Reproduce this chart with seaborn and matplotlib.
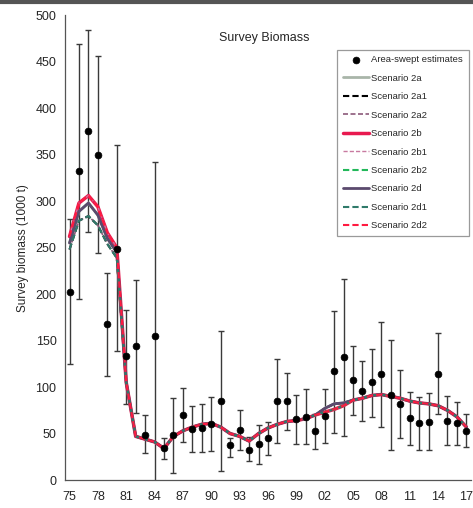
import numpy as np
import pandas as pd
import seaborn as sns
import matplotlib.pyplot as plt
from matplotlib.lines import Line2D

# survey years 1975-2017
years = list(range(1975, 2018))
tick_years = list(range(1975, 2018, 3))
tick_labels = ['75', '78', '81', '84', '87', '90', '93', '96', '99',
               '02', '05', '08', '11', '14', '17']

# area-swept estimates with confidence bounds (1000 t)
obs = [202, 332, 376, 350, 168, 249, 133, 144, 49, 155, 35, 48, 70, 55, 56,
       60, 85, 38, 54, 32, 39, 45, 85, 85, 66, 68, 53, 69, 117, 132, 108,
       96, 105, 114, 91, 82, 67, 61, 62, 114, 63, 61, 53]
obs_lo = [125, 195, 267, 244, 112, 139, 82, 72, 29, -40, 23, 8, 41, 30, 30,
          31, 10, 25, 32, 20, 17, 27, 40, 54, 39, 39, 33, 40, 51, 47, 70,
          63, 68, 57, 32, 45, 38, 32, 32, 71, 38, 38, 36]
obs_hi = [281, 469, 484, 456, 223, 360, 183, 215, 70, 342, 45, 88, 99, 80, 82,
          89, 160, 45, 75, 46, 59, 62, 130, 115, 91, 98, 71, 98, 182, 216, 144,
          128, 141, 170, 151, 118, 95, 89, 94, 158, 90, 84, 71]

# model fits: the scenarios differ mostly in the late 1970s
head_top = [262, 298, 306, 294, 266, 250]
head_mid = [255, 289, 298, 285, 260, 245]
head_low = [248, 279, 284, 274, 254, 239]
tail_b = [105, 47, 44, 41, 34, 47, 53, 57, 60, 61, 57, 50, 47, 42, 50, 56,
          60, 63, 64, 66, 70, 73, 76, 80, 86, 88, 91, 92, 90, 88, 85, 83,
          82, 80, 75, 68, 57]
tail_d = [105, 47, 44, 41, 34, 47, 53, 57, 60, 61, 57, 50, 47, 42, 50, 56,
          60, 63, 64, 66, 70, 77, 82, 83, 86, 88, 91, 92, 90, 88, 85, 83,
          82, 80, 75, 68, 57]

scenarios = {
    'Scenario 2a':  head_mid + tail_d,
    'Scenario 2a1': head_low + tail_d,
    'Scenario 2a2': head_low + tail_d,
    'Scenario 2b':  head_top + tail_b,
    'Scenario 2b1': head_top + tail_b,
    'Scenario 2b2': head_mid + tail_b,
    'Scenario 2d':  head_mid + tail_d,
    'Scenario 2d1': head_low + tail_b,
    'Scenario 2d2': head_top + tail_b,
}

styles = {
    'Scenario 2a':  dict(color='#a9b5a9', linestyle='-', lw=2.0),
    'Scenario 2a1': dict(color='black', linestyle=(0, (3, 1.5)), lw=1.5),
    'Scenario 2a2': dict(color='#8c5a7a', linestyle=(0, (3, 1.5)), lw=1.2),
    'Scenario 2b':  dict(color='#e8194f', linestyle='-', lw=2.5),
    'Scenario 2b1': dict(color='#c87aa0', linestyle=(0, (3, 1.5)), lw=1.0),
    'Scenario 2b2': dict(color='#22b85a', linestyle=(0, (3, 1.5)), lw=1.5),
    'Scenario 2d':  dict(color='#5b4a6e', linestyle='-', lw=2.0),
    'Scenario 2d1': dict(color='#2f7a6a', linestyle=(0, (3, 1.5)), lw=1.5),
    'Scenario 2d2': dict(color='#ff1a40', linestyle=(0, (3, 1.5)), lw=1.5),
}

sns.set_style('white')
plt.rcParams['font.family'] = ['Liberation Sans', 'DejaVu Sans']

fig = plt.figure(figsize=(4.73, 5.08), dpi=100)
ax = fig.add_axes([0.137, 0.055, 0.859, 0.915])

obs_a = np.array(obs)
yerr = [obs_a - np.array(obs_lo), np.array(obs_hi) - obs_a]
ax.errorbar(years, obs, yerr=yerr, fmt='none', ecolor='#3a3a3a',
            elinewidth=1.0, capsize=2, capthick=1.0, zorder=1)

for name, vals in scenarios.items():
    sns.lineplot(x=years, y=vals, ax=ax, label=name, zorder=2, **styles[name])

sns.scatterplot(x=years, y=obs, ax=ax, color='black', s=24, edgecolor='black',
                linewidth=0.5, label='Area-swept estimates', zorder=3)

ax.set_xlim(1974.5, 2017.5)
ax.set_ylim(0, 500)
ax.set_yticks(range(0, 501, 50))
ax.set_xticks(tick_years)
ax.set_xticklabels(tick_labels)
ax.set_xticks(years, minor=True)
ax.tick_params(axis='both', which='major', direction='out', length=4,
               width=0.8, color='#555555', labelsize=9, pad=2)
ax.tick_params(axis='x', which='minor', direction='out', length=3,
               width=0.8, color='#555555')
ax.tick_params(axis='x', which='major', pad=4)
for side in ['top', 'right']:
    ax.spines[side].set_visible(False)
for side in ['left', 'bottom']:
    ax.spines[side].set_color('#555555')
    ax.spines[side].set_linewidth(0.9)

ax.set_xlabel('')
ax.set_ylabel('Survey biomass (1000 t)', fontsize=8.5, labelpad=5)
ax.text(0.49, 0.952, 'Survey Biomass', transform=ax.transAxes,
        ha='center', va='center', fontsize=9)

handles, labels = ax.get_legend_handles_labels()
order = [labels.index('Area-swept estimates')] + \
        [labels.index(n) for n in scenarios]
leg = ax.legend([handles[i] for i in order], [labels[i] for i in order],
                loc='upper left', bbox_to_anchor=(0.67, 0.926),
                fontsize=6.8, frameon=True, fancybox=False, framealpha=1,
                edgecolor='#9a9a9a', handlelength=2.8, handletextpad=0.25,
                labelspacing=1.0, borderpad=0.6, borderaxespad=0)
leg.get_frame().set_linewidth(0.9)

fig.add_artist(Line2D([0, 1], [0.996, 0.996], transform=fig.transFigure,
                      color='#555555', lw=3))

fig.savefig('out.png', dpi=100)
